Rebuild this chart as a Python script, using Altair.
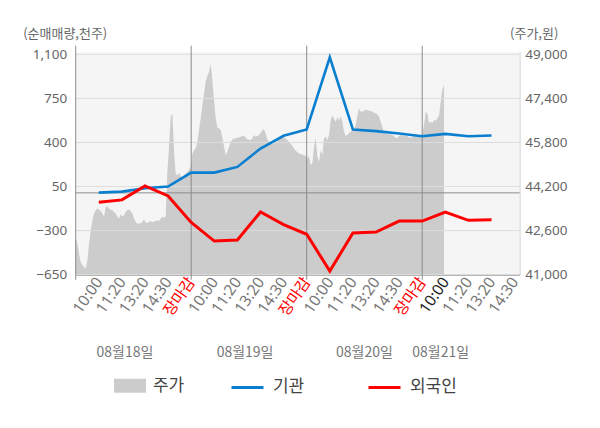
import altair as alt
import pandas as pd

# ---------------- data ----------------
time_labels = ["10:00", "11:20", "13:20", "14:30", "장마감",
               "10:00", "11:20", "13:20", "14:30", "장마감",
               "10:00", "11:20", "13:20", "14:30", "장마감",
               "10:00", "11:20", "13:20", "14:30"]
boundary_slots = [0, 5, 10, 15]
date_labels = ["08월18일", "08월19일", "08월20일", "08월21일"]
date_slots = [2.13, 7.33, 12.5, 15.8]

line_slots = list(range(1, 19))
inst = [2, 10, 37, 50, 161, 161, 206, 352, 453, 503, 1076, 503, 490, 471, 450, 468, 450, 456]
foreign = [-75, -56, 55, -25, -235, -383, -375, -152, -252, -329, -621, -319, -311, -224, -224, -152, -218, -213]

price_step = 0.07215  # slots per price sample
price = [
    42330, 42130, 41760, 41460, 41340, 41280, 41220, 41520, 42130, 42610,
    42980, 43220, 43340, 43400, 43360, 43310, 43220, 43100, 43460, 43480,
    43400, 43360, 43340, 43280, 43220, 43100, 43040, 43190, 43100, 43160,
    43280, 43360, 43360, 43310, 43220, 43040, 42920, 42830, 42880, 42850,
    42920, 43000, 42900, 42880, 42920, 42950, 42900, 42930, 42950, 42980,
    42950, 43040, 43100, 43070, 43120, 44730, 45640, 46730, 46850, 45520,
    44650, 44610, 44700, 44580, 44530, 44620, 44670, 44730, 44820,
    44910, 45400, 45520, 45580, 45820, 46250, 46670, 47160, 47580, 48010,
    48210, 48370, 48670, 48070, 47340, 46670, 46350, 46310, 46250, 45980,
    45640, 45340, 45460, 45640, 45820, 45910, 45950, 45940, 45980, 45980,
    46010, 46030, 46030, 45980, 45910, 45910, 45880, 45950, 46070, 46010,
    46030, 46070, 46150, 46250, 46270, 46130, 45910, 45820, 45760, 45740,
    45760, 45790, 45860, 45950, 46010, 45980, 45980, 45940, 45880, 45820,
    45740, 45670, 45580, 45500, 45450, 45400, 45380, 45360, 45330,
    45330, 45220, 45300, 44980, 45060, 45640, 45980, 45280, 45100, 45520,
    45340, 45950, 46010, 45880, 46070, 46610, 46790, 46670, 46550, 46730,
    46590, 46760, 46550, 46190, 46030, 46070, 46130, 46190, 46250, 46270,
    46430, 46790, 47040, 46910, 46920, 46950, 46980, 46980, 46950, 46950,
    46910, 46880, 46850, 46820, 46730, 46550, 46350, 46130, 46130, 46100,
    46100, 46100, 46070, 46030, 45950, 45980, 46030, 46070, 46050, 46050,
    46030, 46030, 45980, 45980, 46010, 46030, 46030, 46030, 46010, 46030,
    46130, 46430, 46910, 46850, 46510, 46550, 46510, 46610, 46590, 46670,
    46790, 47280, 47730, 47880,
]

left_ticks = [-650, -300, 50, 400, 750, 1100]
right_ticks = [41000, 42600, 44200, 45800, 47400, 49000]

# ---------------- frames ----------------
df_price = pd.DataFrame({"t": [i * price_step for i in range(len(price))],
                         "price": price, "series": "주가"})
df_inst = pd.DataFrame({"slot": line_slots, "value": inst, "series": "기관"})
df_for = pd.DataFrame({"slot": line_slots, "value": foreign, "series": "외국인"})
df_grid = pd.DataFrame({"v": left_ticks})
df_zero = pd.DataFrame({"v": [0]})
df_bound = pd.DataFrame({"s": boundary_slots})
df_dates = pd.DataFrame({"s": date_slots, "d": date_labels})

W, H = 444, 223
FONT = "Noto Sans CJK KR"
NUMFONT = "Noto Sans, Noto Sans CJK KR"

label_arr = "[" + ",".join("'%s'" % s for s in ([""] + time_labels)) + "]"
x_axis = alt.Axis(
    values=list(range(1, 20)),
    labelExpr=label_arr + "[datum.value]",
    labelAngle=-55, labelFontSize=15.5, labelFont=NUMFONT,
    labelOverlap=False, labelBound=False, labelFlush=False,
    labelPadding=4, ticks=False, grid=False,
    domain=True, domainColor="#888888", title=None,
    labelColor={"condition": [
        {"test": "indexof([5,10,15], datum.value) >= 0", "value": "#ff0000"},
        {"test": "datum.value == 16", "value": "#222222"}],
        "value": "#777777"},
)
x_scale = alt.Scale(domain=[0, 19.22], nice=False, zero=False)


def xenc(field):
    return alt.X(field, type="quantitative", scale=x_scale, axis=x_axis, title=None)


left_axis = alt.Axis(
    orient="left", values=left_ticks, format=",d", grid=False, domain=False,
    ticks=False, labelPadding=9, labelFontSize=13.5, labelColor="#666666",
    labelFont=NUMFONT, title="(순매매량,천주)", titleAngle=0, titleAlign="left",
    titleBaseline="middle", titleX=-53, titleY=-18, titleFontSize=13,
    titleFontWeight="normal", titleColor="#666666", titleFont=FONT,
)
left_scale = alt.Scale(domain=[-650, 1121], nice=False, zero=False)


def yl(field):
    return alt.Y(field, type="quantitative", scale=left_scale, axis=left_axis)


right_axis = alt.Axis(
    orient="right", values=right_ticks, format=",d", grid=False, domain=True,
    domainColor="#d6d6d6", ticks=False, labelPadding=5, labelFontSize=13.5,
    labelColor="#666666", labelFont=NUMFONT, title="(주가,원)", titleAngle=0,
    titleAlign="center", titleBaseline="middle", titleX=14, titleY=-18,
    titleFontSize=13, titleFontWeight="normal", titleColor="#666666",
    titleFont=FONT,
)

area = alt.Chart(df_price).mark_area(interpolate="linear").encode(
    x=xenc("t"),
    y=alt.Y("price:Q", scale=alt.Scale(domain=[41000, 49094], nice=False, zero=False),
            axis=right_axis),
    y2=alt.datum(41000),
    fill=alt.Fill("series:N", scale=alt.Scale(domain=["주가"], range=["#cccccc"]),
                  legend=alt.Legend(orient="none", legendX=38.3, legendY=318,
                                    title=None, padding=0,
                                    symbolType="M-1,-0.4375H1V0.4375H-1Z",
                                    symbolSize=1024, symbolStrokeWidth=0,
                                    labelFont=FONT, labelFontSize=17,
                                    labelColor="#444444", labelOffset=7)),
)

grid = alt.Chart(df_grid).mark_rule(color="#dddddd", strokeWidth=1).encode(y=yl("v"))
zero = alt.Chart(df_zero).mark_rule(color="#8c8c8c", strokeWidth=1).encode(y=yl("v"))
vlines = alt.Chart(df_bound).mark_rule(color="#8c8c8c", strokeWidth=1).encode(
    x=xenc("s"), y=alt.value(-6), y2=alt.value(H + 5))

stroke_scale = alt.Scale(domain=["기관", "외국인"], range=["#0a7fd0", "#ff0000"])
stroke_legend = alt.Legend(orient="none", legendX=154.3, legendY=318, title=None,
                           direction="horizontal", padding=0, symbolType="stroke",
                           symbolSize=1024, symbolStrokeWidth=3, columnPadding=57,
                           labelFont=FONT, labelFontSize=17, labelColor="#444444",
                           labelOffset=8)

blue = alt.Chart(df_inst).mark_line(strokeWidth=2.6).encode(
    x=xenc("slot"), y=yl("value"),
    stroke=alt.Stroke("series:N", scale=stroke_scale, legend=stroke_legend))
red = alt.Chart(df_for).mark_line(strokeWidth=3).encode(
    x=xenc("slot"), y=yl("value"),
    stroke=alt.Stroke("series:N", scale=stroke_scale, legend=stroke_legend))

dates = alt.Chart(df_dates).mark_text(fontSize=14, color="#777777", font=FONT,
                                       baseline="middle", align="center").encode(
    x=xenc("s"), y=alt.value(301), text="d:N")

inner = alt.layer(grid, zero, vlines, blue, red, dates)

chart = alt.layer(area, inner).resolve_scale(y="independent").properties(
    width=W, height=H,
    autosize=alt.AutoSizeParams(type="none"),
    padding={"left": 67.7, "top": 43.7, "right": 70, "bottom": 130},
).configure_view(fill="#f5f5f5", stroke="transparent")

chart.save("out.html", embed_options={"renderer": "svg", "actions": False})
